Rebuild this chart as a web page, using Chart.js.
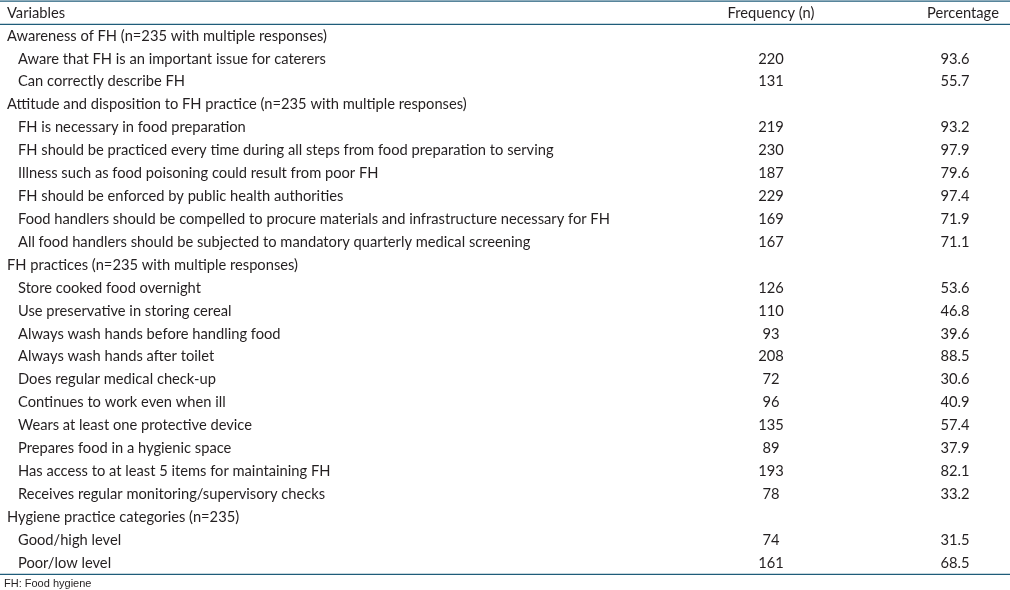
<!DOCTYPE html>
<html lang="en">
<head>
<meta charset="utf-8"/>
<title>Food hygiene table</title>
<script src="https://cdn.jsdelivr.net/npm/chart.js"></script>
<style>
  body { margin: 0; background: #fff; }
  #wrap { width: 1010px; height: 590px; position: relative; }
</style>
</head>
<body>
<div id="wrap"><canvas id="chart"></canvas></div>
<script>
  // table contents, one entry per row (header row first)
  const headers = ["Variables", "Frequency (n)", "Percentage"];
  const variables = [
    "Awareness of FH (n=235 with multiple responses)",
    "Aware that FH is an important issue for caterers",
    "Can correctly describe FH",
    "Attitude and disposition to FH practice (n=235 with multiple responses)",
    "FH is necessary in food preparation",
    "FH should be practiced every time during all steps from food preparation to serving",
    "Illness such as food poisoning could result from poor FH",
    "FH should be enforced by public health authorities",
    "Food handlers should be compelled to procure materials and infrastructure necessary for FH",
    "All food handlers should be subjected to mandatory quarterly medical screening",
    "FH practices (n=235 with multiple responses)",
    "Store cooked food overnight",
    "Use preservative in storing cereal",
    "Always wash hands before handling food",
    "Always wash hands after toilet",
    "Does regular medical check-up",
    "Continues to work even when ill",
    "Wears at least one protective device",
    "Prepares food in a hygienic space",
    "Has access to at least 5 items for maintaining FH",
    "Receives regular monitoring/supervisory checks",
    "Hygiene practice categories (n=235)",
    "Good/high level",
    "Poor/low level"
  ];
  // 0 = group heading, 1 = item
  const levels = [0,1,1,0,1,1,1,1,1,1,0,1,1,1,1,1,1,1,1,1,1,0,1,1];
  const frequency = [null,220,131,null,219,230,187,229,169,167,null,126,110,93,208,72,96,135,89,193,78,null,74,161];
  const percentage = [null,"93.6","55.7",null,"93.2","97.9","79.6","97.4","71.9","71.1",null,"53.6","46.8","39.6","88.5","30.6","40.9","57.4","37.9","82.1","33.2",null,"31.5","68.5"];
  const footnote = "FH: Food hygiene";

  const rowLabels = [headers[0]].concat(variables);

  const textColor = "#231f20";
  const ruleColor = "#1f5c7a";
  const bodyFont = "14.7px Lato";

  const tablePlugin = {
    id: "tableText",
    afterDraw(chart) {
      const ctx = chart.ctx;
      const x = chart.scales.x, y = chart.scales.y;
      const area = chart.chartArea;
      const step = y.getPixelForValue(1) - y.getPixelForValue(0);
      ctx.save();
      // rules
      ctx.strokeStyle = ruleColor;
      ctx.lineWidth = 1.2;
      const rules = [y.getPixelForValue(0) - step / 2 - 0.5, y.getPixelForValue(0) + step / 2, y.getPixelForValue(rowLabels.length - 1) + step / 2];
      rules.forEach(r => {
        ctx.beginPath();
        ctx.moveTo(x.getPixelForValue(0), r);
        ctx.lineTo(x.getPixelForValue(1010), r);
        ctx.stroke();
      });
      ctx.fillStyle = textColor;
      ctx.font = bodyFont;
      ctx.textBaseline = "middle";
      // header
      const hy = y.getPixelForValue(0);
      ctx.textAlign = "left";
      ctx.fillText(headers[0], x.getPixelForValue(7), hy);
      ctx.textAlign = "center";
      ctx.fillText(headers[1], x.getPixelForValue(771), hy);
      ctx.fillText(headers[2], x.getPixelForValue(963), hy);
      // body
      variables.forEach((v, i) => {
        const py = y.getPixelForValue(i + 1);
        ctx.textAlign = "left";
        ctx.fillText(v, x.getPixelForValue(levels[i] ? 18 : 7), py);
        ctx.textAlign = "center";
        if (frequency[i] !== null) ctx.fillText(String(frequency[i]), x.getPixelForValue(771), py);
        if (percentage[i] !== null) ctx.fillText(percentage[i], x.getPixelForValue(955), py);
      });
      // footnote
      ctx.font = "11px 'Liberation Sans'";
      ctx.textAlign = "left";
      ctx.fillText(footnote, x.getPixelForValue(4), area.bottom + 21);
      ctx.restore();
    }
  };

  new Chart(document.getElementById("chart"), {
    type: "scatter",
    data: {
      labels: rowLabels,
      datasets: [{ data: [], pointRadius: 0 }]
    },
    options: {
      responsive: true,
      maintainAspectRatio: false,
      animation: false,
      layout: { padding: { top: 13, bottom: 27, left: 0, right: 0 } },
      plugins: { legend: { display: false }, tooltip: { enabled: false } },
      scales: {
        x: { type: "linear", min: 0, max: 1010, display: false },
        y: { type: "category", labels: rowLabels, offset: false, display: false }
      }
    },
    plugins: [tablePlugin]
  });
</script>
</body>
</html>
